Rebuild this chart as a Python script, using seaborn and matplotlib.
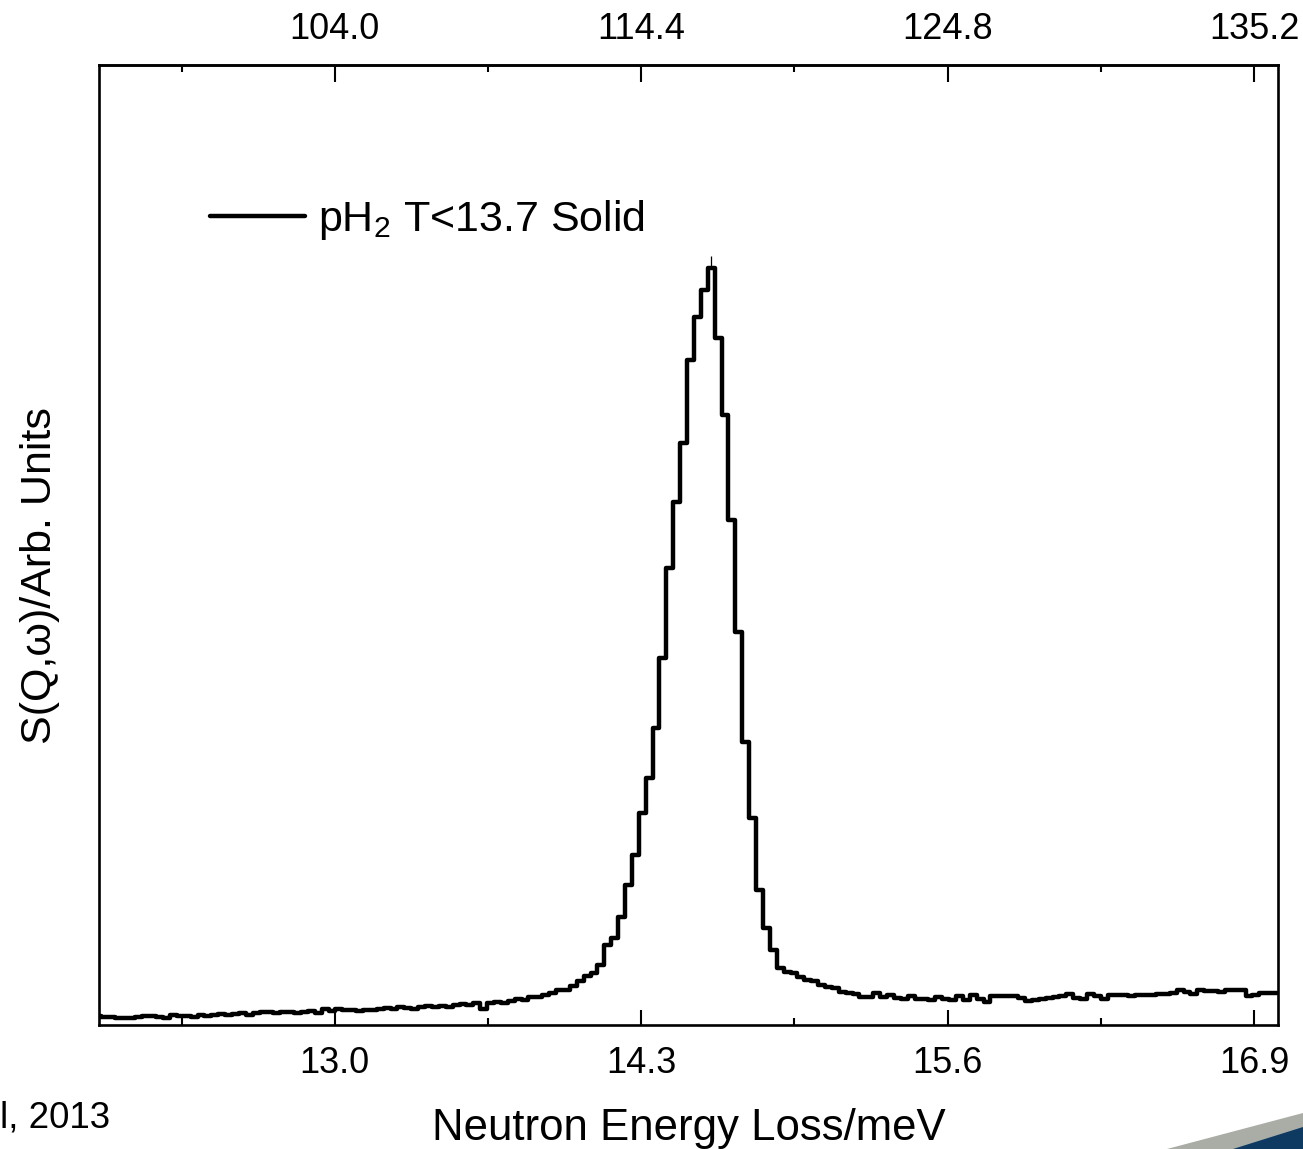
import numpy as np
import pandas as pd
import matplotlib
matplotlib.use("Agg")
import matplotlib.pyplot as plt
import matplotlib.patches as mpatches
import seaborn as sns

# ---------------- data ----------------
bin_start_mev = 11.979      # left edge of first bin (meV)
bin_width_mev = 0.02925     # histogram bin width (meV)
intensity = [
    7, 6, 6, 5, 5, 5, 6, 7, 7, 6,
    5, 8, 7, 7, 6, 8, 7, 8, 9, 8,
    9, 10, 8, 10, 11, 11, 10, 11, 11, 10,
    11, 12, 10, 14, 12, 14, 13, 13, 12, 13,
    13, 14, 15, 14, 16, 15, 14, 16, 17, 16,
    17, 16, 18, 19, 18, 20, 14, 20, 21, 20,
    22, 24, 23, 26, 26, 28, 30, 33, 33, 37,
    42, 47, 50, 58, 78, 85, 106, 138, 168, 210,
    245, 295, 365, 455, 521, 580, 663, 706, 733, 755,
    685, 608, 503, 391, 281, 205, 133, 95, 73, 55,
    51, 50, 46, 43, 42, 38, 36, 35, 31, 30,
    29, 26, 26, 30, 26, 28, 25, 24, 27, 24,
    24, 23, 26, 24, 23, 27, 23, 28, 24, 21,
    27, 27, 27, 27, 25, 22, 23, 24, 25, 26,
    27, 29, 25, 24, 29, 27, 24, 28, 28, 28,
    27, 28, 28, 28, 29, 29, 30, 33, 31, 29,
    33, 32, 32, 31, 33, 33, 33, 27, 28, 30,
    30, 30,
]
peak_error = 12
series_label = r"pH$_2$ T<13.7 Solid"
bottom_ticks = [13.0, 14.3, 15.6, 16.9]
bottom_minor = [12.35, 13.65, 14.95, 16.25]
top_ticks = [104.0, 114.4, 124.8, 135.2]
top_minor = [98.8, 109.2, 119.6, 130.0]
mev_to_top = 8.0
x_label = "Neutron Energy Loss/meV"
y_label = "S(Q,\u03c9)/Arb. Units"
corner_text = "l, 2013"

# ---------------- build frame ----------------
n = len(intensity)
centers = bin_start_mev + bin_width_mev * (np.arange(n) + 0.5)
df = pd.DataFrame({"E": centers, "S": intensity})

# ---------------- style ----------------
sns.set_theme(style="white")
plt.rcParams["font.family"] = ["Liberation Sans", "DejaVu Sans"]
plt.rcParams["mathtext.fontset"] = "custom"
plt.rcParams["mathtext.rm"] = "Liberation Sans"
plt.rcParams["mathtext.it"] = "Liberation Sans"
plt.rcParams["mathtext.default"] = "rm"
plt.rcParams["text.color"] = "black"
plt.rcParams["axes.labelcolor"] = "black"
plt.rcParams["xtick.color"] = "black"
plt.rcParams["ytick.color"] = "black"

fig = plt.figure(figsize=(13.03, 11.49), dpi=100)
fig.patch.set_facecolor("white")
ax = fig.add_axes([0.076, 0.1079, 0.9046, 0.8355])

sns.lineplot(data=df, x="E", y="S", ax=ax, color="black", linewidth=3.2,
             drawstyle="steps-mid", label=series_label, estimator=None)

# thin error bar at the peak bin
ipk = int(np.argmax(intensity))
ax.vlines(centers[ipk] - 0.002, intensity[ipk], intensity[ipk] + peak_error,
          color="black", linewidth=0.9)

ax.set_xlim(12.0, 17.0)
ax.set_ylim(-2, 958)

for s in ax.spines.values():
    s.set_visible(True)
    s.set_color("black")
    s.set_linewidth(1.9)

ax.set_yticks([])
ax.set_xticks(bottom_ticks)
ax.set_xticklabels([f"{t:.1f}" for t in bottom_ticks])
ax.set_xticks(bottom_minor, minor=True)
ax.tick_params(axis="x", which="major", direction="in", length=11, width=1.5,
               labelsize=26, pad=15, colors="black", bottom=True)
ax.tick_params(axis="x", which="minor", direction="in", length=5, width=1.5,
               bottom=True)

top = ax.secondary_xaxis("top", functions=(lambda x: x * mev_to_top,
                                            lambda x: x / mev_to_top))
top.set_xticks(top_ticks)
top.set_xticklabels([f"{t:.1f}" for t in top_ticks])
top.set_xticks(top_minor, minor=True)
top.tick_params(axis="x", which="major", direction="in", length=12, width=1.5,
                labelsize=26, pad=13, colors="black")
top.tick_params(axis="x", which="minor", direction="in", length=5, width=1.5)
top.spines["top"].set_linewidth(1.9)

ax.set_xlabel(x_label, fontsize=31.5, color="black")
ax.xaxis.set_label_coords(0.5, -0.086)
ax.set_ylabel(y_label, fontsize=31, color="black")
ax.yaxis.set_label_coords(-0.033, 0.468)

leg = ax.legend(loc="center left", bbox_to_anchor=(210 / 1303, 1 - 220 / 1149),
                bbox_transform=fig.transFigure, frameon=False, fontsize=31,
                handlelength=2.2, handletextpad=0.3, borderpad=0,
                borderaxespad=0)
for h in leg.get_lines():
    h.set_linewidth(3.2)
for t in leg.get_texts():
    t.set_color("black")

fig.text(0.0, 1 - 1118 / 1149, corner_text, fontsize=26.5, ha="left",
         va="center", color="black")

# slide decoration in the corner
W, H = 1303, 1149
gray = mpatches.Polygon([(1167 / W, 0), (1.0, (H - 1113) / H), (1.0, 0)],
                        closed=True, transform=fig.transFigure,
                        facecolor="#a9ada6", edgecolor="none")
blue = mpatches.Polygon([(1233 / W, 0), (1.0, (H - 1127) / H), (1.0, 0)],
                        closed=True, transform=fig.transFigure,
                        facecolor="#0e3a62", edgecolor="none")
fig.patches.extend([gray, blue])

fig.savefig("out.png", dpi=100, facecolor="white")
